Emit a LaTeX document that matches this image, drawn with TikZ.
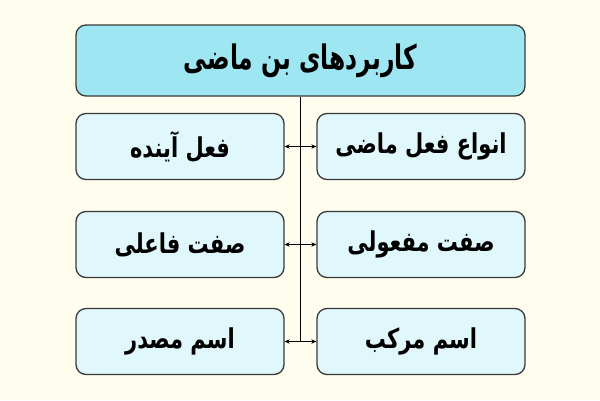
\documentclass[tikz,border=0pt]{standalone}
\usepackage{fontspec}
\usepackage{graphicx}
\TeXXeTstate=1
\newfontfamily\arabicfont[Script=Arabic]{DejaVu Sans}
\usetikzlibrary{arrows.meta}
\definecolor{bgc}{HTML}{FFFDED}
\definecolor{topfill}{HTML}{9EE7F2}
\definecolor{itemfill}{HTML}{E0F7FC}
\definecolor{edgec}{HTML}{3A3A3A}
\newcommand{\toptext}[1]{\scalebox{0.9}[1.3]{\beginR #1\endR}}
\newcommand{\itemtext}[1]{\scalebox{1.0}[1.3]{\beginR #1\endR}}
\tikzset{
  basebox/.style={draw=edgec, line width=1.3pt, rounded corners=10pt, inner sep=0pt},
  topbox/.style={basebox, fill=topfill, minimum width=449pt, minimum height=71pt,
    font=\arabicfont\bfseries\fontsize{26}{30}\selectfont},
  itembox/.style={basebox, fill=itemfill, minimum width=208pt, minimum height=66pt,
    font=\arabicfont\bfseries\fontsize{21}{24}\selectfont},
  conn/.style={draw=black, line width=0.8pt, -{Stealth[length=5pt,width=4.5pt]}},
  trunk/.style={draw=black, line width=0.9pt}
}
\begin{document}
\begin{tikzpicture}[x=1pt,y=-1pt]
\fill[bgc] (0,0) rectangle (600,400);
\useasboundingbox (0,0) rectangle (600,400);
\node[topbox] (top) at (300.5,60.5) {\toptext{کاربردهای بن ماضی}};
\node[itembox] (r1) at (421,146.5) {\itemtext{انواع فعل ماضی}};
\node[itembox] (l1) at (180,146.5) {\itemtext{فعل آینده}};
\node[itembox] (r2) at (421,244.5) {\itemtext{صفت مفعولی}};
\node[itembox] (l2) at (180,244.5) {\itemtext{صفت فاعلی}};
\node[itembox] (r3) at (421,341.5) {\itemtext{اسم مرکب}};
\node[itembox] (l3) at (180,341.5) {\itemtext{اسم مصدر}};
\coordinate (j1) at (300.5,146.5);
\coordinate (j2) at (300.5,244.5);
\coordinate (j3) at (300.5,341.5);
\draw[trunk] (top.south) -- (j3);
\foreach \i in {1,2,3}{
  \draw[conn] (j\i) -- (l\i.east);
  \draw[conn] (j\i) -- (r\i.west);
}
\end{tikzpicture}
\end{document}
